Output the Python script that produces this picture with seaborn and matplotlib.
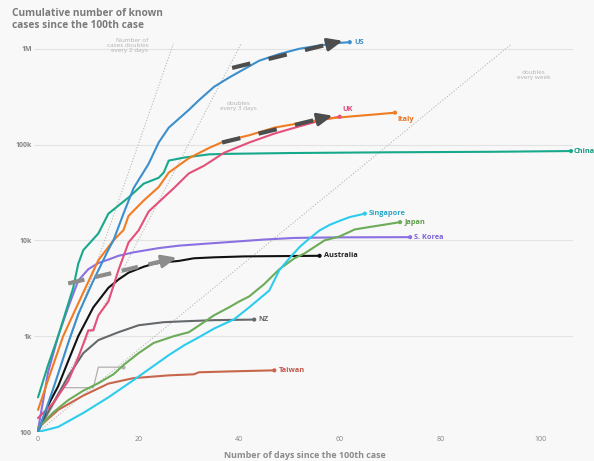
import numpy as np
import pandas as pd
import matplotlib.pyplot as plt
import seaborn as sns

# --- Data ---
us_days = [0, 3, 6, 8, 11, 14, 15, 17, 19, 22, 24, 26, 30, 32, 35, 38, 44, 48, 52, 56, 60, 62]
us_vals = [100, 280, 850, 1700, 3800, 8000, 10000, 19000, 35000, 63000, 105000, 150000,
           230000, 290000, 400000, 500000, 750000, 880000, 1000000, 1080000, 1150000, 1170000]

italy_days = [0, 2, 5, 8, 12, 15, 17, 18, 21, 24, 26, 30, 34, 37, 42, 47, 52, 57, 62, 67, 71]
italy_vals = [170, 350, 1000, 2200, 6200, 10000, 12800, 18000, 26000, 36000, 51000, 72000,
              92000, 108000, 125000, 150000, 167000, 185000, 196000, 206000, 215000]

uk_days = [0, 3, 6, 8, 10, 11, 12, 14, 16, 18, 20, 22, 25, 27, 30, 33, 37, 42, 47, 52, 57, 60]
uk_vals = [140, 200, 340, 600, 1150, 1150, 1650, 2300, 4900, 9500, 12700, 20000, 28000, 35000,
           50000, 60000, 82000, 105000, 130000, 155000, 183000, 195000]

china_days = [0, 2, 4, 7, 8, 9, 12, 14, 18, 21, 24, 25, 26, 29, 34, 38, 50, 70, 90, 106]
china_vals = [230, 500, 1000, 3200, 5700, 7900, 11800, 19000, 28000, 39000, 45000, 51000,
              68000, 73000, 79000, 80000, 81500, 83000, 84000, 85500]

singapore_days = [0, 4, 9, 14, 19, 22, 26, 29, 32, 35, 39, 42, 46, 48, 50, 52, 54, 56, 58, 60, 62, 65]
singapore_vals = [100, 113, 158, 230, 348, 450, 634, 800, 975, 1200, 1500, 2000, 3000, 4900,
                  6500, 8500, 10500, 12700, 14500, 16000, 17500, 19000]

japan_days = [0, 3, 6, 9, 12, 15, 17, 20, 23, 27, 30, 33, 35, 38, 40, 42, 45, 48, 51, 53, 57,
              60, 63, 66, 69, 72]
japan_vals = [110, 160, 215, 270, 323, 400, 500, 665, 850, 1000, 1100, 1400, 1650, 2000, 2300,
              2600, 3500, 5000, 6500, 7300, 10000, 11000, 13000, 13800, 14600, 15500]

korea_days = [0, 1, 2, 4, 6, 8, 10, 12, 14, 16, 19, 24, 28, 33, 38, 45, 51, 60, 74]
korea_vals = [105, 210, 420, 1000, 2000, 3800, 5000, 5800, 6300, 6900, 7500, 8300, 8800, 9200,
              9600, 10200, 10600, 10750, 10800]

australia_days = [0, 2, 4, 6, 8, 11, 14, 16, 18, 21, 23, 25, 28, 31, 35, 41, 48, 56]
australia_vals = [100, 190, 300, 550, 1000, 2000, 3200, 3900, 4600, 5300, 5700, 5900, 6100,
                  6500, 6650, 6800, 6850, 6900]

nz_days = [0, 3, 6, 9, 12, 16, 20, 25, 29, 35, 43]
nz_vals = [105, 200, 380, 665, 910, 1100, 1300, 1400, 1430, 1470, 1490]

taiwan_days = [0, 4, 9, 14, 19, 26, 31, 32, 39, 47]
taiwan_vals = [110, 170, 240, 320, 365, 390, 400, 420, 430, 440]

other_days = [0, 5, 11, 12, 17]
other_vals = [100, 290, 290, 475, 475]

doubling_periods = [2, 3, 7]
guide_end_value = 1.12e6

SERIES = {
    'US': (us_days, us_vals),
    'Italy': (italy_days, italy_vals),
    'UK': (uk_days, uk_vals),
    'China': (china_days, china_vals),
    'Singapore': (singapore_days, singapore_vals),
    'Japan': (japan_days, japan_vals),
    'S. Korea': (korea_days, korea_vals),
    'Australia': (australia_days, australia_vals),
    'NZ': (nz_days, nz_vals),
    'Taiwan': (taiwan_days, taiwan_vals),
}

LINE_COLORS = {
    'US': '#3b8fcc', 'Italy': '#f27c22', 'UK': '#e5507a', 'China': '#17a98b',
    'Singapore': '#2cccee', 'Japan': '#6cab58', 'S. Korea': '#8a70e0',
    'Australia': '#111111', 'NZ': '#66696c', 'Taiwan': '#c8664b',
}
LABEL_COLORS = {
    'US': '#3b8fcc', 'Italy': '#e8701e', 'UK': '#e0457b', 'China': '#139c80',
    'Singapore': '#2aa6c8', 'Japan': '#5f9c4a', 'S. Korea': '#7b63d8',
    'Australia': '#222222', 'NZ': '#66696c', 'Taiwan': '#c0574a',
}
LABEL_OFFSETS = {'UK': (2, 5), 'Italy': (2, -5), 'China': (2, 0)}

BG = '#f8f8f8'
TEXT_GRAY = '#858585'

# --- Long-form frame for seaborn ---
rows = []
for name, (d, v) in SERIES.items():
    for di, vi in zip(d, v):
        rows.append({'country': name, 'day': di, 'cases': vi})
df = pd.DataFrame(rows)
ends = pd.DataFrame([{'country': n, 'day': d[-1], 'cases': v[-1]} for n, (d, v) in SERIES.items()])

sns.set_theme(style='white')
plt.rcParams['font.family'] = ['Open Sans', 'DejaVu Sans']

fig = plt.figure(figsize=(5.94, 4.61), dpi=100, facecolor=BG)
ax = fig.add_axes([34 / 594, 29 / 461, 539 / 594, 410 / 461])
ax.set_facecolor(BG)
ax.set_yscale('log')
ax.set_xlim(-0.8, 106.4)
ax.set_ylim(100, 1.9e6)

# doubling guide lines
for p in doubling_periods:
    d_end = p * np.log2(guide_end_value / 100)
    ax.plot([0, d_end], [100, guide_end_value], color='#b8b8b8', lw=0.8,
            linestyle=(0, (1, 1.6)), zorder=1)

guide_kw = dict(fontsize=4.6, color='#b0b0b0', linespacing=1.0, zorder=2)
ax.text(21.9, 1.3e6, 'Number of\ncases doubles\nevery 2 days', ha='right', va='top', **guide_kw)
ax.text(39.8, 2.55e5, 'doubles\nevery 3 days', ha='center', va='center', **guide_kw)
ax.text(98.6, 5.3e5, 'doubles\nevery week', ha='center', va='center', **guide_kw)

# unlabeled grey series
ax.plot(other_days, other_vals, color='#b0b0b0', lw=0.9, zorder=2)
ax.plot(other_days[-1], other_vals[-1], 'o', color='#b0b0b0', ms=2, zorder=2)

sns.lineplot(data=df, x='day', y='cases', hue='country', palette=LINE_COLORS,
             hue_order=list(SERIES.keys())[::-1], estimator=None, sort=False,
             lw=1.5, legend=False, ax=ax, zorder=3)
sns.scatterplot(data=ends, x='day', y='cases', hue='country', palette=LINE_COLORS,
                s=9, linewidth=0, legend=False, ax=ax, zorder=4)

for name, (d, v) in SERIES.items():
    ax.annotate(name, (d[-1], v[-1]), xytext=LABEL_OFFSETS.get(name, (3, 0)),
                textcoords='offset points', ha='left', va='center', fontsize=5.3,
                fontweight='bold', color=LABEL_COLORS[name], annotation_clip=False)

# dashed trend arrows (annotation only)
def dashed_arrow(start, tip, color, dash):
    (x0, y0), (x1, y1) = start, tip
    frac = 0.88
    xm = x0 + (x1 - x0) * frac
    ym = 10 ** (np.log10(y0) + (np.log10(y1) - np.log10(y0)) * frac)
    ax.plot([x0, xm], [y0, ym], color=color, lw=3.0, linestyle=dash,
            solid_capstyle='butt', dash_capstyle='butt', zorder=5)
    ax.annotate('', xy=tip, xytext=(xm, ym),
                arrowprops=dict(arrowstyle='-|>,head_length=0.75,head_width=0.32',
                                color=color, lw=2.2, shrinkA=0, shrinkB=0),
                zorder=5)

dashed_arrow((38.6, 6.3e5), (60.6, 1.21e6), '#4d4d4d', (0, (4.5, 4.5)))
dashed_arrow((36.6, 1.05e5), (58.6, 2.0e5), '#4d4d4d', (0, (4.5, 4.5)))
dashed_arrow((6.0, 3.55e3), (27.6, 6.6e3), '#8c8c8c', (0, (4, 2.6)))

# axes styling
ax.set_yticks([100, 1e3, 1e4, 1e5, 1e6])
ax.set_yticklabels(['100', '1k', '10k', '100k', '1M'])
ax.yaxis.set_minor_locator(plt.NullLocator())
ax.set_xticks([0, 20, 40, 60, 80, 100])
ax.tick_params(axis='both', length=0, labelsize=5, labelcolor=TEXT_GRAY)
ax.tick_params(axis='y', pad=1.5)
ax.tick_params(axis='x', pad=3)
for lab in ax.get_yticklabels():
    lab.set_fontweight('bold')
ax.yaxis.grid(True, color='#e3e3e3', lw=0.8)
ax.set_axisbelow(True)
sns.despine(ax=ax, left=True, bottom=True)
ax.set_xlabel('')
ax.set_ylabel('')

fig.text(12 / 594, 1 - 8 / 461, 'Cumulative number of known\ncases since the 100th case',
         ha='left', va='top', fontsize=7.3, fontweight='bold', color='#7a7a7a', linespacing=1.15)
fig.text(305 / 594, 1 - 455 / 461, 'Number of days since the 100th case',
         ha='center', va='center', fontsize=6.4, fontweight='bold', color='#8a8a8a')

fig.savefig('out.png', dpi=100, facecolor=BG)
